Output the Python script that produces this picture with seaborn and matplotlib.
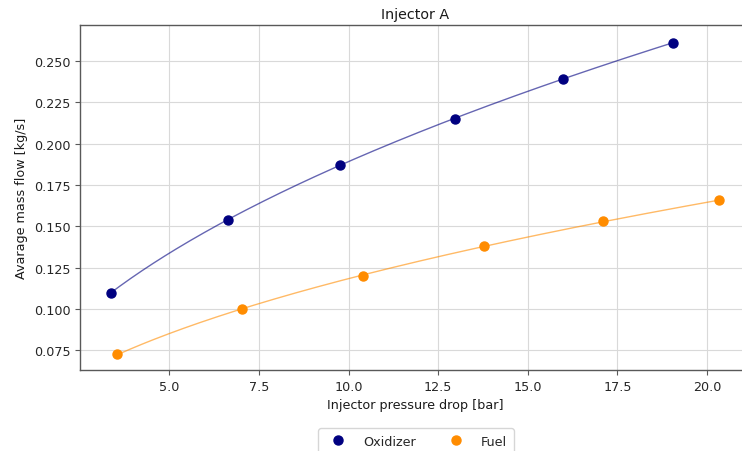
import numpy as np
import pandas as pd
import matplotlib
matplotlib.use("Agg")
import matplotlib.pyplot as plt
import seaborn as sns

# Data
ox_dp = [3.38, 6.63, 9.77, 12.96, 15.98, 19.05]
ox_mdot = [0.110, 0.154, 0.187, 0.215, 0.239, 0.261]
fu_dp = [3.55, 7.03, 10.40, 13.77, 17.10, 20.34]
fu_mdot = [0.0726, 0.100, 0.120, 0.138, 0.153, 0.166]
series_names = ["Oxidizer", "Fuel"]
series_colors = ["navy", "darkorange"]

sns.set_style("whitegrid", {
    "axes.edgecolor": ".35",
    "grid.color": ".85",
    "xtick.bottom": True,
    "ytick.left": True,
    "axes.spines.top": True,
    "axes.spines.right": False,
})
plt.rcParams["font.family"] = ["DejaVu Sans"]
plt.rcParams["font.size"] = 9.2

fig = plt.figure(figsize=(7.42, 4.52), dpi=100)
ax = fig.add_axes([80 / 742, 81 / 452, 670 / 742, 345 / 452])

for dp, md, name, col in zip([ox_dp, fu_dp], [ox_mdot, fu_mdot], series_names, series_colors):
    dp = np.asarray(dp)
    md = np.asarray(md)
    # power-law fit m = a * dp^n derived from the measured points
    n, lna = np.polyfit(np.log(dp), np.log(md), 1)
    xf = np.linspace(dp.min(), dp.max(), 200)
    fit = pd.DataFrame({"dp": xf, "m": np.exp(lna) * xf ** n})
    sns.lineplot(data=fit, x="dp", y="m", ax=ax, color=col, alpha=0.6, lw=1, legend=False)
    pts = pd.DataFrame({"dp": dp, "m": md})
    ax.plot(pts["dp"], pts["m"], "o", color=col, ms=6.5, label=name, zorder=3)

ax.set_xlim(2.51, 21.2)
ax.set_ylim(0.0632, 0.2716)
ax.set_xticks([5.0, 7.5, 10.0, 12.5, 15.0, 17.5, 20.0])
ax.set_yticks([0.075, 0.100, 0.125, 0.150, 0.175, 0.200, 0.225, 0.250])
ax.xaxis.set_major_formatter(matplotlib.ticker.FormatStrFormatter("%.1f"))
ax.yaxis.set_major_formatter(matplotlib.ticker.FormatStrFormatter("%.3f"))
ax.tick_params(length=3.5, width=0.8, colors=".35", labelcolor=".15")
for s in ax.spines.values():
    s.set_linewidth(1.0)

ax.set_title("Injector A", fontsize=10.3, color=".1", pad=5)
ax.set_xlabel("Injector pressure drop [bar]", color=".1")
ax.set_ylabel("Avarage mass flow [kg/s]", color=".1")

ax.legend(loc="upper center", bbox_to_anchor=(0.5 + 1 / 670, -0.15), ncol=2,
          frameon=True, fontsize=9.2, handletextpad=1.0, columnspacing=2.1,
          borderpad=0.5)

fig.savefig("out.png", dpi=100)
